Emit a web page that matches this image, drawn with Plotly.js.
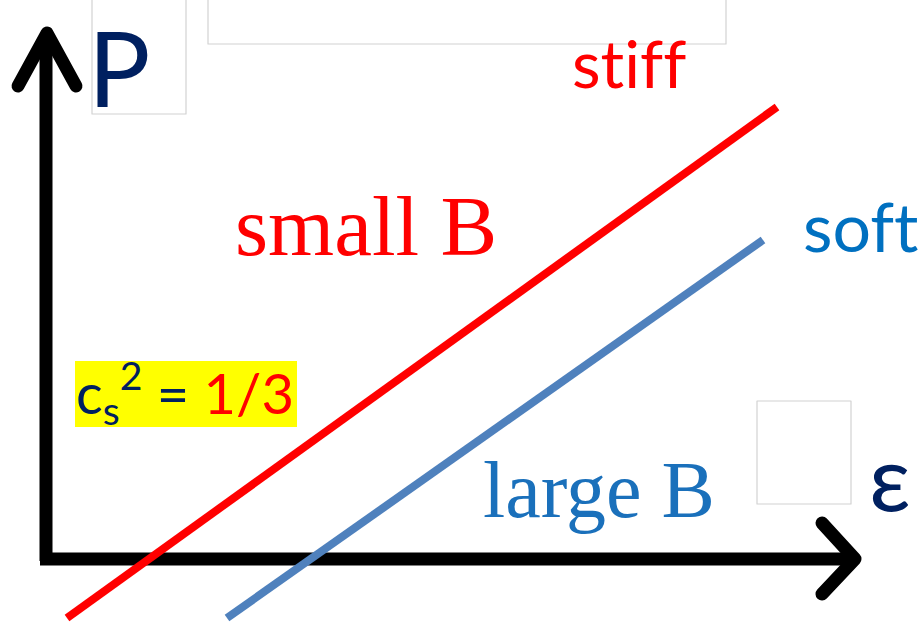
<!DOCTYPE html>
<html>
<head>
<meta charset="utf-8">
<script src="https://cdn.plot.ly/plotly-3.0.1.min.js"></script>
<style>
html, body { margin: 0; padding: 0; background: #ffffff; }
#chart { width: 923px; height: 625px; }
.shapelayer path.arrowhead { stroke-linecap: round; }
.shapelayer path { stroke-linejoin: round; }
text.annotation-text { font-variant-ligatures: none; font-feature-settings: "liga" 0, "clig" 0; }
</style>
</head>
<body>
<div id="chart"></div>
<script>
// ---- data (energy density ε on x, pressure P on y; origin at axis corner) ----
const stiffEps = [21, 731];
const stiffP   = [-59, 452];
const softEps  = [181, 717];
const softP    = [-59, 319];

const labelStiff = "stiff";
const labelSoft = "soft";
const labelSmallB = "small B";
const labelLargeB = "large B";
const labelP = "P";
const labelEps = "ε";
const labelCs = "c<sub>s</sub><sup>2</sup> = <span style='color:#ff0000'>1/3</span>";

// ---- helpers: page pixel -> data coordinates ----
const OX = 46, OY = 559, W = 923, H = 625;
const dx = p => p - OX;
const dy = p => OY - p;

const traces = [
  { x: stiffEps, y: stiffP, mode: 'lines', line: { color: '#ff0000', width: 8 }, hoverinfo: 'skip', showlegend: false },
  { x: softEps, y: softP, mode: 'lines', line: { color: '#4f81bd', width: 8 }, hoverinfo: 'skip', showlegend: false }
];

function path(pts) {
  return pts.map((p, i) => (i ? 'L' : 'M') + dx(p[0]) + ',' + dy(p[1])).join(' ');
}
function rect(x0, y0, x1, y1, extra) {
  return Object.assign({ type: 'rect', xref: 'x', yref: 'y', x0: dx(x0), x1: dx(x1), y0: dy(y0), y1: dy(y1),
    line: { color: '#d2d2d2', width: 1.2 }, fillcolor: 'rgba(0,0,0,0)', layer: 'below' }, extra || {});
}

const shapes = [
  // empty placeholder boxes
  rect(92, -5, 186, 114),
  rect(208, -5, 726, 44),
  rect(757, 401, 851, 504),
  // yellow highlight
  rect(75, 361, 297, 427, { fillcolor: '#ffff00', line: { width: 0 } }),
  // axes
  { type: 'path', xref: 'x', yref: 'y', path: path([[46, 561], [46, 36]]), line: { color: '#000', width: 13 }, layer: 'below' },
  { type: 'path', xref: 'x', yref: 'y', path: path([[18, 86], [47, 33], [76, 86]]), line: { color: '#000', width: 13 }, layer: 'below' },
  { type: 'path', xref: 'x', yref: 'y', path: path([[40, 559], [851, 559]]), line: { color: '#000', width: 13 }, layer: 'below' },
  { type: 'path', xref: 'x', yref: 'y', path: path([[822, 523], [855, 559], [822, 594]]), line: { color: '#000', width: 13 }, layer: 'below' }
];

function ann(text, cx, cy, size, color, family) {
  return { text: text, xref: 'x', yref: 'y', x: dx(cx), y: dy(cy), xanchor: 'center', yanchor: 'middle',
    showarrow: false, font: { size: size, color: color, family: family } };
}
const sans = 'Lato, "Open Sans", sans-serif';
const serif = '"Liberation Serif", "DejaVu Serif", serif';

const annotations = [
  ann(labelP, 119, 66, 104, '#002060', sans),
  ann(labelStiff, 629, 62, 66, '#ff0000', sans),
  ann(labelSmallB, 366, 226, 85, '#ff0000', serif),
  ann(labelSoft, 860, 225, 68, '#0070c0', sans),
  ann(labelCs, 185, 392, 56, '#002060', sans),
  ann(labelLargeB, 599, 490, 80, '#1a70bb', serif),
  ann(labelEps, 890, 475, 92, '#002060', sans)
];

const layout = {
  width: W, height: H,
  margin: { l: 0, r: 0, t: 0, b: 0 },
  paper_bgcolor: '#ffffff', plot_bgcolor: '#ffffff',
  xaxis: { range: [dx(0), dx(W)], visible: false, fixedrange: true },
  yaxis: { range: [dy(H), dy(0)], visible: false, fixedrange: true },
  shapes: shapes,
  annotations: annotations,
  showlegend: false
};

Plotly.newPlot('chart', traces, layout, { staticPlot: true, displayModeBar: false }).then(() => {
  // round caps only on the arrowhead chevrons
  const paths = document.querySelectorAll('.shapelayer path');
  paths.forEach(p => {
    const d = p.getAttribute('d') || '';
    if ((d.match(/L/g) || []).length === 2) p.classList.add('arrowhead');
  });
});
</script>
</body>
</html>
